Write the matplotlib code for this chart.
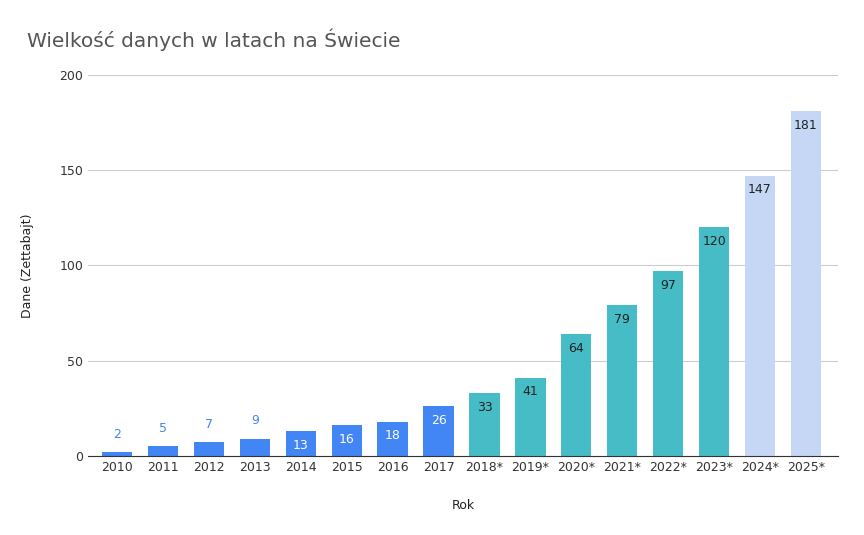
import matplotlib
matplotlib.use("Agg")
import matplotlib.pyplot as plt

years = ["2010","2011","2012","2013","2014","2015","2016","2017","2018*","2019*","2020*","2021*","2022*","2023*","2024*","2025*"]
values = [2,5,7,9,13,16,18,26,33,41,64,79,97,120,147,181]
groups = ["a"]*8 + ["b"]*6 + ["c"]*2
colors = {"a":"#4285F4","b":"#46BDC6","c":"#C6D7F6"}
yticks = [0,50,100,150,200]

fig = plt.figure(figsize=(8.64,5.35), dpi=100)
ax = fig.add_axes([0.102,0.148,0.868,0.712])
x = list(range(len(years)))
ax.bar(x, values, width=0.66, color=[colors[g] for g in groups], zorder=2)
for xi, v, g in zip(x, values, groups):
    if v < 12:
        ax.text(xi, v+6, str(v), ha="center", va="bottom", fontsize=9, color="#4285F4")
    else:
        ax.text(xi, v-4, str(v), ha="center", va="top", fontsize=9,
                color="white" if g=="a" else "#222222")
ax.set_ylim(0,200)
ax.set_xlim(-0.63,15.7)
ax.set_yticks(yticks)
ax.set_xticks(x)
ax.set_xticklabels(years)
ax.tick_params(length=0, labelsize=9, colors="#333333")
ax.grid(axis="y", color="#cccccc", lw=0.8, zorder=0)
for s in ["top","right","left"]:
    ax.spines[s].set_visible(False)
ax.spines["bottom"].set_color("#333333")
ax.set_ylabel("Dane (Zettabajt)", fontsize=9, color="#222222", labelpad=18)
ax.set_xlabel("Rok", fontsize=9, color="#222222", labelpad=18)
fig.text(0.031, 0.925, "Wielkość danych w latach na Świecie", fontsize=14.5, color="#555555", va="center")
fig.savefig("out.png", dpi=100)
